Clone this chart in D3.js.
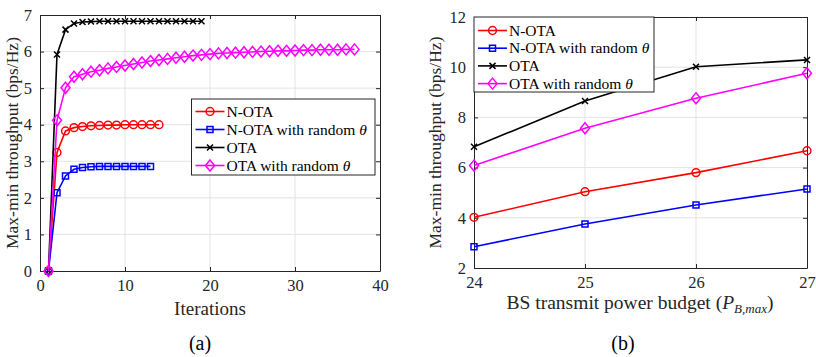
<!DOCTYPE html>
<html>
<head>
<meta charset="utf-8">
<script src="https://cdn.jsdelivr.net/npm/d3@7"></script>
<style>
  body { margin: 0; background: #fff; }
  svg { font-family: "Liberation Serif", serif; }
  .tick text { fill: #262626; }
</style>
</head>
<body>
<div class="chart"></div>
<script>
// (a) throughput vs iterations
const nOta      = [0, 3.24, 3.83, 3.92, 3.95, 3.97, 3.98, 3.99, 3.99, 4.0, 4.0, 4.0, 4.0, 4.0];
const nOtaRand  = [0, 2.14, 2.6, 2.78, 2.83, 2.85, 2.86, 2.86, 2.86, 2.86, 2.86, 2.86, 2.86];
const ota       = [0, 5.92, 6.6, 6.77, 6.81, 6.82, 6.83, 6.83, 6.83, 6.83, 6.83, 6.83, 6.83, 6.83, 6.83, 6.83, 6.83, 6.83, 6.83];
const otaRand   = [0, 4.12, 5.01, 5.31, 5.38, 5.45, 5.49, 5.54, 5.58, 5.62, 5.66, 5.7, 5.74, 5.77, 5.8, 5.83, 5.86, 5.89, 5.91,
                   5.93, 5.95, 5.96, 5.97, 5.98, 5.99, 6.0, 6.01, 6.02, 6.02, 6.03, 6.04, 6.04, 6.05, 6.05, 6.05, 6.06, 6.06];

// (b) throughput vs BS power budget
const power      = [24, 25, 26, 27];
const bNOta      = [4.02, 5.04, 5.8, 6.67];
const bNOtaRand  = [2.85, 3.75, 4.51, 5.15];
const bOta       = [6.83, 8.65, 10.02, 10.29];
const bOtaRand   = [6.08, 7.57, 8.76, 9.76];

const seriesNames = ["N-OTA", "N-OTA with random ", "OTA", "OTA with random "];
const seriesColors = ["#ff0000", "#0000ff", "#000000", "#ff00ff"];
const seriesMarkers = ["circle", "square", "cross", "diamond"];

const width = 816, height = 357;
const axisColor = "#262626";

const svg = d3.select(".chart").append("svg")
    .attr("width", width)
    .attr("height", height);

function markerPath(type) {
    if (type === "circle") return d3.symbol(d3.symbolCircle, 48)();
    if (type === "square") return "M-3,-3H3V3H-3Z";
    if (type === "diamond") return "M0,-5.5L4.5,0L0,5.5L-4.5,0Z";
    return "M-3,-3L3,3M-3,3L3,-3";
}

function drawPanel(opts) {
    const g = svg.append("g");
    const x = d3.scaleLinear().domain(opts.xDomain).range([opts.left, opts.right]);
    const y = d3.scaleLinear().domain(opts.yDomain).range([opts.bottom, opts.top]);

    // grid
    g.append("g").selectAll("line").data(opts.xTicks.slice(1, -1)).enter().append("line")
        .attr("x1", d => x(d)).attr("x2", d => x(d))
        .attr("y1", opts.top).attr("y2", opts.bottom)
        .attr("stroke", "#e3e3e3").attr("stroke-width", 1);
    g.append("g").selectAll("line").data(opts.yTicks.slice(1, -1)).enter().append("line")
        .attr("y1", d => y(d)).attr("y2", d => y(d))
        .attr("x1", opts.left).attr("x2", opts.right)
        .attr("stroke", "#e3e3e3").attr("stroke-width", 1);

    // axes, ticks inside
    const fmt = d3.format("d");
    const axes = [
        [d3.axisBottom(x).tickValues(opts.xTicks).tickSizeInner(-4), `translate(0,${opts.bottom})`, true],
        [d3.axisTop(x).tickValues(opts.xTicks).tickSizeInner(-4), `translate(0,${opts.top})`, false],
        [d3.axisLeft(y).tickValues(opts.yTicks).tickSizeInner(-4), `translate(${opts.left},0)`, true],
        [d3.axisRight(y).tickValues(opts.yTicks).tickSizeInner(-4), `translate(${opts.right},0)`, false]
    ];
    axes.forEach(([ax, tr, labels]) => {
        const a = g.append("g").attr("transform", tr)
            .call(ax.tickFormat(fmt).tickSizeOuter(0).tickPadding(labels ? 8 : 0))
            .style("font-family", "Liberation Serif, serif")
            .style("font-size", "16.5px");
        a.select(".domain").attr("stroke", axisColor);
        a.selectAll(".tick line").attr("stroke", axisColor);
        if (!labels) a.selectAll(".tick text").remove();
    });

    // series
    opts.series.forEach((s, i) => {
        const line = d3.line().x(d => x(d[0])).y(d => y(d[1]));
        g.append("path").datum(s)
            .attr("fill", "none")
            .attr("stroke", seriesColors[i])
            .attr("stroke-width", 1.6)
            .attr("d", line);
        g.append("g").selectAll("path").data(s).enter().append("path")
            .attr("transform", d => `translate(${x(d[0])},${y(d[1])})`)
            .attr("d", markerPath(seriesMarkers[i]))
            .attr("fill", "none")
            .attr("stroke", seriesColors[i])
            .attr("stroke-width", 1.5);
    });

    // legend
    const lg = opts.legend;
    g.append("rect")
        .attr("x", lg.x).attr("y", lg.y)
        .attr("width", lg.w).attr("height", lg.h)
        .attr("fill", "#fff").attr("stroke", axisColor).attr("stroke-width", 1);
    seriesNames.forEach((name, i) => {
        const cy = lg.y + lg.first + i * lg.step;
        g.append("line")
            .attr("x1", lg.x + 4).attr("x2", lg.x + 33)
            .attr("y1", cy).attr("y2", cy)
            .attr("stroke", seriesColors[i]).attr("stroke-width", 1.6);
        g.append("path")
            .attr("transform", `translate(${lg.x + 18.5},${cy})`)
            .attr("d", markerPath(seriesMarkers[i]))
            .attr("fill", "none").attr("stroke", seriesColors[i]).attr("stroke-width", 1.5);
        const t = g.append("text")
            .attr("x", lg.x + 35).attr("y", cy + 5)
            .attr("font-size", "15.5px").attr("fill", "#000")
            .text(name);
        if (name.endsWith(" ")) t.append("tspan").attr("font-style", "italic").text("θ");
    });

    // y label
    g.append("text")
        .attr("transform", `translate(${opts.yLabelX},${(opts.top + opts.bottom) / 2}) rotate(-90)`)
        .attr("text-anchor", "middle")
        .attr("font-size", "17.5px").attr("fill", axisColor)
        .text("Max-min throughput (bps/Hz)");

    return {g, x, y};
}

const toPts = (arr, xs) => arr.map((v, i) => [xs ? xs[i] : i + 1, v]);

const a = drawPanel({
    left: 40, right: 380, top: 15, bottom: 271,
    xDomain: [0, 40], yDomain: [0, 7],
    xTicks: [0, 10, 20, 30, 40], yTicks: [0, 1, 2, 3, 4, 5, 6, 7],
    series: [toPts(nOta), toPts(nOtaRand), toPts(ota), toPts(otaRand)],
    legend: {x: 191.5, y: 99, w: 183.5, h: 76, first: 12.5, step: 18},
    yLabelX: 18
});
a.g.append("text")
    .attr("x", 210).attr("y", 315)
    .attr("text-anchor", "middle").attr("font-size", "19px").attr("fill", axisColor)
    .text("Iterations");
a.g.append("text")
    .attr("x", 200).attr("y", 350)
    .attr("text-anchor", "middle").attr("font-size", "20px").attr("fill", "#000")
    .text("(a)");

const b = drawPanel({
    left: 474, right: 807, top: 17, bottom: 268,
    xDomain: [24, 27], yDomain: [2, 12],
    xTicks: [24, 25, 26, 27], yTicks: [2, 4, 6, 8, 10, 12],
    series: [toPts(bNOta, power), toPts(bNOtaRand, power), toPts(bOta, power), toPts(bOtaRand, power)],
    legend: {x: 474, y: 17, w: 180, h: 75, first: 13.5, step: 17.7},
    yLabelX: 441
});
const xl = b.g.append("text")
    .attr("x", 640).attr("y", 309)
    .attr("text-anchor", "middle").attr("font-size", "19.5px").attr("fill", axisColor);
xl.append("tspan").text("BS transmit power budget (");
xl.append("tspan").attr("font-style", "italic").text("P");
xl.append("tspan").attr("font-style", "italic").attr("font-size", "13px").attr("dy", 4).text("B,max");
xl.append("tspan").attr("dy", -4).text(")");
b.g.append("text")
    .attr("x", 623).attr("y", 350)
    .attr("text-anchor", "middle").attr("font-size", "20px").attr("fill", "#000")
    .text("(b)");
</script>
</body>
</html>
